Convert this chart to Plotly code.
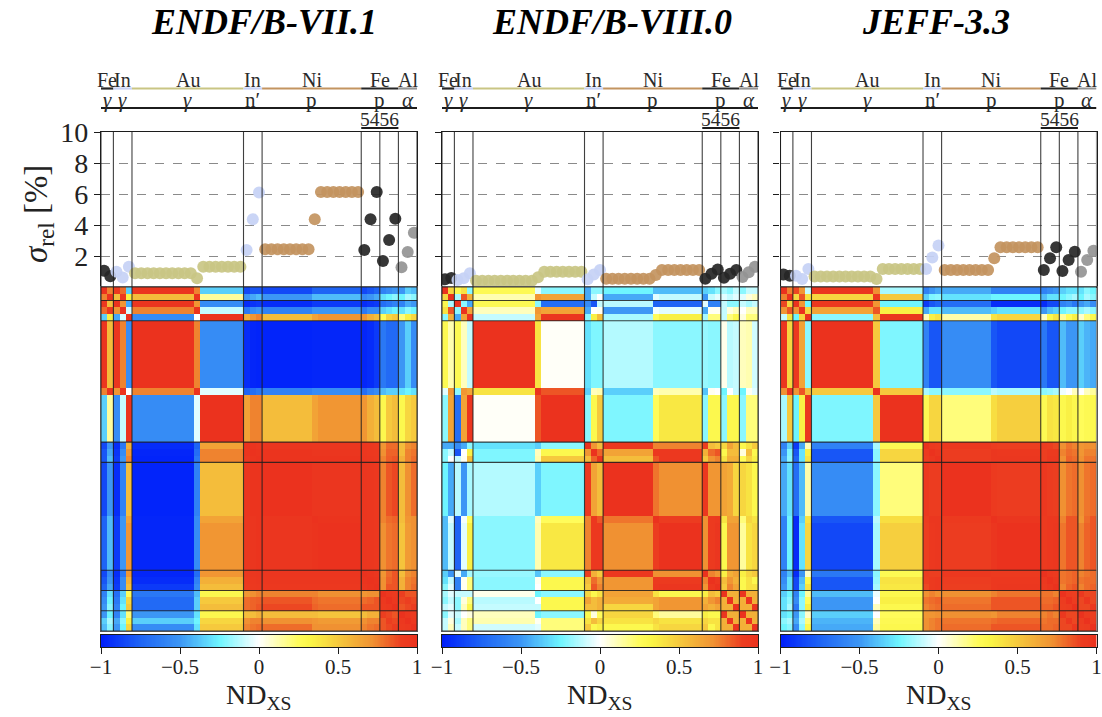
import numpy as np
import plotly.graph_objects as go

TITLES = ["ENDF/B-VII.1", "ENDF/B-VIII.0", "JEFF-3.3"]
TITLE_CENTERS = [264, 612, 936]
PANEL_X = [(101, 417), (442, 758), (780.5, 1096.5)]

# number of energy cells covered by each block of the matrix
CELLS = [1,1, 1,1,1, 10,1,7, 1,1,1, 8,1,7, 1,1,1, 1,1,1, 1,1,1]
BOUNDS = [0, 2, 5, 23, 26, 42, 45, 48, 51]
ELEMENTS = ["Fe", "In", "Au", "In", "Ni", "Fe", "Al"]
ELEMENT_SPANS = [(0,2), (2,5), (5,23), (23,26), (26,42), (42,48), (48,51)]
ELEMENT_COLORS = ["#262626", "#c6d1f5", "#c9c584", "#c6d1f5", "#c39460", "#262626", "#949494"]
REACTIONS = ["<i>γ</i>", "<i>γ</i>", "<i>γ</i>", "n′", "p", "p", "<i>α</i>"]
Y_TICKS = [2, 4, 6, 8, 10]
CB_TICKS = [-1, -0.5, 0, 0.5, 1]
CB_TEXT = ["−1", "−0.5", "0", "0.5", "1"]

SIGMA_71 = [1.05,0.7, 0.98,0.62,1.3, 0.88,0.56,1.31, 2.39,4.37,6.09, 2.43,4.37,6.13,
            2.39,4.37,6.13, 1.68,3.03,4.41, 1.27,2.26,3.5]
SIGMA_80 = [0.5,0.58, 0.45,0.56,0.88, 0.41,0.63,0.99, 0.5,0.8,1.1, 0.53,0.78,1.1,
            0.53,0.85,1.13, 0.6,0.85,1.1, 0.65,0.95,1.3]
SIGMA_33 = [0.81,0.72, 0.72,0.52,1.16, 0.67,0.52,1.16, 1.16,1.9,2.67, 1.1,1.85,2.56,
            1.1,1.85,2.56, 1.03,1.74,2.28, 0.99,1.74,2.34]

# upper triangles of the block correlation matrices, row by row
CORR_71 = [
 [1,.75,.95,.8,-.35,.97,.75,-.35,-.85,-.8,-.8,-.85,-.75,-.75,-.85,-.8,-.75,-.6,-.55,-.5,-.5,-.35,-.4],
 [1,.55,.95,.35,.55,.98,.15,-.5,-.45,-.4,-.5,-.4,-.4,-.55,-.5,-.45,-.3,-.25,-.2,-.25,-.15,-.2],
 [1,.7,-.45,.97,.7,-.55,-.95,-.92,-.9,-.95,-.9,-.9,-.95,-.92,-.9,-.7,-.65,-.6,-.6,-.45,-.5],
 [1,-.07,.75,.98,-.1,-.65,-.55,-.5,-.6,-.5,-.5,-.65,-.55,-.55,-.35,-.3,-.25,-.3,-.2,-.25],
 [1,-.55,0,.98,.6,.7,.75,.55,.65,.7,.7,.6,.55,.25,.45,.5,.2,.35,.45],
 [1,.75,-.55,-.95,-.97,-.98,-.98,-.97,-.97,-.97,-.95,-.9,-.65,-.72,-.72,-.5,-.35,-.55],
 [1,-.05,-.75,-.7,-.65,-.6,-.55,-.55,-.7,-.6,-.55,-.4,-.35,-.35,-.3,-.25,-.3],
 [1,.65,.75,.75,.55,.65,.7,.7,.6,.55,.3,.5,.55,.3,.45,.5],
 [1,.98,.97,.97,.96,.96,.96,.95,.93,.7,.8,.8,.55,.72,.75],
 [1,.98,.98,.97,.97,.96,.95,.94,.72,.82,.82,.55,.75,.78],
 [1,.98,.98,.98,.97,.96,.95,.75,.83,.85,.6,.75,.8],
 [1,.97,.97,.97,.96,.95,.75,.85,.88,.55,.72,.8],
 [1,.98,.97,.96,.95,.75,.8,.82,.55,.7,.72],
 [1,.97,.96,.95,.72,.78,.8,.52,.68,.72],
 [1,.98,.97,.7,.8,.85,.55,.72,.75],
 [1,.98,.72,.82,.85,.6,.75,.78],
 [1,.72,.85,.85,.6,.75,.8],
 [1,.95,.93,.9,.85,.85],
 [1,.95,.88,.9,.88],
 [1,.85,.88,.92],
 [1,.95,.93],
 [1,.95],
 [1],
]
CORR_80 = [
 [1,.45,.3,.4,-.2,.28,-.05,-.2,-.45,-.2,-.2,-.25,-.4,-.4,-.35,-.3,-.2,-.15,-.2,-.1,-.2,-.1,-.1],
 [1,-.15,.85,.6,.12,.7,.65,-.45,-.1,0,-.45,-.05,-.1,-.5,-.1,-.05,-.05,-.1,-.05,-.05,.05,.1],
 [1,-.2,-.45,.28,-.2,-.7,-.55,-.8,-.1,-.12,-.75,-.75,-.05,-.6,-.6,-.1,-.2,-.2,-.1,-.15,-.1],
 [1,.65,.1,.7,.65,-.45,0,.02,-.5,-.02,-.05,-.45,.02,.02,-.1,.05,.1,0,.1,.1],
 [1,-.1,.65,.97,-.2,.35,.55,-.15,.25,.35,-.15,.2,.2,-.1,.2,.3,.05,.2,.2],
 [1,.4,.01,-.3,-.22,-.22,-.13,-.2,-.2,-.18,-.2,-.2,.03,-.12,-.1,.1,.12,-.08],
 [1,.85,-.35,.1,.12,-.35,.1,.12,-.38,.02,0,-.25,0,-.1,-.25,.02,-.05],
 [1,-.2,.3,.5,-.22,.25,.38,-.2,.3,.3,-.2,.3,.3,-.2,.2,.2],
 [1,.7,.55,.95,.75,.75,.9,.55,.5,.45,.65,.55,.3,.4,.5],
 [1,.82,.65,.95,.95,.6,.8,.85,.3,.55,.55,.05,.55,.3],
 [1,.55,.85,.95,.5,.7,.75,.4,.6,.6,.25,.45,.35],
 [1,.78,.72,.95,.7,.7,.65,.62,.45,.45,.4,.3],
 [1,.92,.72,.93,.95,.4,.65,.65,.2,.45,.4],
 [1,.72,.93,.97,.3,.7,.7,.15,.4,.45],
 [1,.75,.7,.35,.6,.65,.35,.45,.5],
 [1,.95,.55,.7,.6,.3,.4,.3],
 [1,.5,.75,.65,.3,.4,.4],
 [1,.6,.6,.97,.6,.6],
 [1,.6,.6,.97,.6],
 [1,.6,.6,.97],
 [1,.6,.6],
 [1,.6],
 [1],
]
CORR_33 = [
 [1,.75,.88,.7,-.1,.97,.72,-.15,-.6,-.5,-.45,-.45,-.6,-.6,-.6,-.55,-.5,-.35,-.3,-.3,-.3,-.2,-.25],
 [1,.45,.85,.4,.45,.95,.5,-.35,-.22,-.2,-.3,-.25,-.25,-.4,-.3,-.3,-.25,-.2,-.15,-.25,-.15,-.2],
 [1,.7,-.25,.95,.7,-.25,-.9,-.8,-.75,-.7,-.95,-.95,-.95,-.85,-.85,-.6,-.55,-.65,-.5,-.45,-.55],
 [1,.45,.65,.85,.35,-.45,-.3,-.3,-.4,-.35,-.3,-.5,-.4,-.35,-.25,-.2,-.2,-.2,-.15,-.2],
 [1,-.2,.55,.97,.1,.35,.4,.13,.4,.45,.08,.3,.4,.15,.25,.35,.08,.2,.3],
 [1,.5,-.22,-.6,-.8,-.8,-.55,-.8,-.85,-.65,-.8,-.8,-.4,-.5,-.5,-.35,-.42,-.45],
 [1,.5,-.15,-.2,-.2,-.2,-.12,-.15,-.2,-.18,-.15,-.03,0,.1,0,.1,.15],
 [1,.28,.45,.45,.2,.42,.48,.28,.4,.38,.3,.35,.3,.25,.28,.3],
 [1,.95,.93,.95,.92,.9,.92,.9,.88,.72,.78,.75,.7,.72,.72],
 [1,.96,.92,.96,.95,.9,.93,.93,.75,.8,.78,.7,.75,.75],
 [1,.92,.96,.96,.9,.95,.95,.72,.82,.8,.72,.78,.78],
 [1,.93,.92,.95,.92,.9,.72,.78,.8,.72,.78,.8],
 [1,.97,.93,.95,.95,.75,.85,.85,.7,.8,.85],
 [1,.93,.95,.96,.78,.85,.85,.75,.82,.85],
 [1,.95,.93,.78,.8,.82,.75,.78,.8],
 [1,.96,.78,.8,.82,.78,.8,.8],
 [1,.75,.82,.85,.75,.8,.82],
 [1,.92,.9,.95,.88,.88],
 [1,.92,.88,.95,.88],
 [1,.88,.88,.95],
 [1,.92,.9],
 [1,.92],
 [1],
]

COLORSCALE = [
    [0.0, "rgb(0,30,250)"], [0.125, "rgb(30,100,245)"], [0.25, "rgb(60,150,245)"],
    [0.375, "rgb(110,245,255)"], [0.5, "rgb(255,255,255)"], [0.625, "rgb(255,252,90)"],
    [0.665, "rgb(250,245,70)"], [0.86, "rgb(240,145,50)"], [0.95, "rgb(236,62,32)"],
    [1.0, "rgb(235,50,30)"],
]

W, H = 1102, 717
TOP_Y, SPLIT_Y, BOTTOM_Y = 132, 287, 631
CB_TOP, CB_BOTTOM = 635, 647
BLACK = "#1c1c1c"
SERIF = "Liberation Serif"
GRADIENT = np.linspace(-1, 1, 256)


def py(v):
    return 1 - v / H


def px(v):
    return v / W


def expand(rows):
    n = len(rows)
    m = np.zeros((n, n))
    for i, row in enumerate(rows):
        m[i, i:] = row
        m[i:, i] = row
    return np.repeat(np.repeat(m, CELLS, axis=0), CELLS, axis=1)


fig = go.Figure()
shapes, annotations = [], []
layout = {}
cells_x = np.arange(51) + 0.5

for p, (corr, sigma) in enumerate(zip([CORR_71, CORR_80, CORR_33], [SIGMA_71, SIGMA_80, SIGMA_33])):
    x0, x1 = PANEL_X[p]
    xa = 3 * p + 1
    xb = 3 * p + 2
    xc = 3 * p + 3
    dom_x = [px(x0), px(x1)]

    fig.add_trace(go.Heatmap(x=cells_x, y=cells_x, z=expand(corr), zmin=-1, zmax=1,
                             colorscale=COLORSCALE, showscale=False,
                             xaxis=f"x{xb}", yaxis=f"y{xb}", showlegend=False))
    fig.add_trace(go.Heatmap(x=GRADIENT, y=[0], z=[GRADIENT], zmin=-1, zmax=1,
                             colorscale=COLORSCALE, showscale=False,
                             xaxis=f"x{xc}", yaxis=f"y{xc}", showlegend=False))

    sig = np.repeat(sigma, CELLS)
    for (s, e), col in zip(ELEMENT_SPANS, ELEMENT_COLORS):
        fig.add_trace(go.Scatter(x=cells_x[s:e], y=sig[s:e], mode="markers",
                                 marker=dict(size=12, color=col, opacity=0.92, line=dict(width=0)),
                                 xaxis=f"x{xa}", yaxis=f"y{xa}", showlegend=False))

    layout[f"xaxis{xa}"] = dict(domain=dom_x, range=[0, 51], anchor=f"y{xa}", showticklabels=False,
                                ticks="", showgrid=False, zeroline=False, showline=True, mirror=True,
                                linecolor=BLACK, linewidth=1.4, automargin=False)
    layout[f"yaxis{xa}"] = dict(domain=[py(SPLIT_Y), py(TOP_Y)], range=[0, 10], anchor=f"x{xa}",
                                tickvals=Y_TICKS, ticks="outside", ticklen=6, tickcolor=BLACK,
                                showticklabels=p == 0, automargin=False,
                                tickfont=dict(family=SERIF, size=28, color="#222"),
                                showgrid=True, gridcolor="#8a8a8a", griddash="dash", gridwidth=1,
                                zeroline=False, showline=True, mirror=True, linecolor=BLACK, linewidth=1.4)
    layout[f"xaxis{xb}"] = dict(domain=dom_x, range=[0, 51], anchor=f"y{xb}", showticklabels=False,
                                ticks="", showgrid=False, zeroline=False, showline=True, mirror=True,
                                linecolor="#555", linewidth=1, automargin=False)
    layout[f"yaxis{xb}"] = dict(domain=[py(BOTTOM_Y), py(SPLIT_Y)], range=[51, 0], anchor=f"x{xb}",
                                showticklabels=False, ticks="", showgrid=False, zeroline=False,
                                showline=True, mirror=True, linecolor="#555", linewidth=1, automargin=False)
    layout[f"xaxis{xc}"] = dict(domain=dom_x, range=[-1, 1], anchor=f"y{xc}", tickvals=CB_TICKS,
                                ticktext=CB_TEXT, ticks="outside", ticklen=6, tickcolor=BLACK,
                                tickfont=dict(family=SERIF, size=21, color="#222"), automargin=False,
                                showgrid=False, zeroline=False, showline=True, mirror=True,
                                linecolor=BLACK, linewidth=1.4, ticklabelstandoff=-5)
    layout[f"yaxis{xc}"] = dict(domain=[py(CB_BOTTOM), py(CB_TOP)], anchor=f"x{xc}", showticklabels=False,
                                ticks="", showgrid=False, zeroline=False, showline=True, mirror=True,
                                linecolor=BLACK, linewidth=1.4, automargin=False)

    # separators through both the scatter and the matrix
    for b in BOUNDS:
        shapes.append(dict(type="line", xref=f"x{xa}", yref="paper", x0=b, x1=b,
                           y0=py(BOTTOM_Y), y1=py(TOP_Y), line=dict(color="rgba(30,30,30,0.85)", width=1.1)))
        shapes.append(dict(type="line", xref=f"x{xb}", yref=f"y{xb}", x0=0, x1=51, y0=b, y1=b,
                           line=dict(color="rgba(30,30,30,0.85)", width=1.1)))

    # element and reaction header
    for (s, e), col, el, re_ in zip(ELEMENT_SPANS, ELEMENT_COLORS, ELEMENTS, REACTIONS):
        shapes.append(dict(type="line", xref=f"x{xa}", yref="paper", x0=s, x1=e, y0=py(88.5), y1=py(88.5),
                           line=dict(color=col, width=2.2)))
        annotations.append(dict(text=el, xref=f"x{xa}", yref="paper", x=(s + e) / 2, y=py(79.5),
                                showarrow=False, xanchor="center", yanchor="middle",
                                font=dict(family=SERIF, size=20, color="#2a2a2a")))
        annotations.append(dict(text=re_, xref=f"x{xa}", yref="paper", x=(s + e) / 2, y=py(100),
                                showarrow=False, xanchor="center", yanchor="middle",
                                font=dict(family=SERIF, size=21, color="#2a2a2a")))
    shapes.append(dict(type="line", xref=f"x{xa}", yref="paper", x0=0, x1=51, y0=py(108), y1=py(108),
                       line=dict(color=BLACK, width=2)))
    shapes.append(dict(type="line", xref=f"x{xa}", yref="paper", x0=42, x1=48, y0=py(128), y1=py(128),
                       line=dict(color=BLACK, width=2)))
    annotations.append(dict(text="5456", xref=f"x{xa}", yref="paper", x=45, y=py(119.5),
                            showarrow=False, xanchor="center", yanchor="middle",
                            font=dict(family=SERIF, size=19.5, color="#2a2a2a")))

    annotations.append(dict(text=f"<b><i>{TITLES[p]}</i></b>", xref="paper", yref="paper",
                            x=px(TITLE_CENTERS[p]), y=py(22), showarrow=False,
                            xanchor="center", yanchor="middle",
                            font=dict(family=SERIF, size=36, color="#000")))
    annotations.append(dict(text="ND<sub>XS</sub>", xref="paper", yref="paper",
                            x=px((x0 + x1) / 2), y=py(696), showarrow=False,
                            xanchor="center", yanchor="middle",
                            font=dict(family=SERIF, size=28, color="#222")))

annotations.append(dict(text="<i>σ</i><sub>rel</sub> [%]", xref="paper", yref="paper", x=px(38), y=py(214),
                        showarrow=False, textangle=-90, xanchor="center", yanchor="middle",
                        font=dict(family=SERIF, size=33, color="#222")))

fig.update_layout(width=W, height=H, autosize=False, margin=dict(l=0, r=0, t=0, b=0),
                  paper_bgcolor="white", plot_bgcolor="white", showlegend=False,
                  shapes=shapes, annotations=annotations, **layout)
fig.write_html("out.html", config={"displayModeBar": False},
               post_script="document.documentElement.style.margin='0';document.body.style.margin='0';")
